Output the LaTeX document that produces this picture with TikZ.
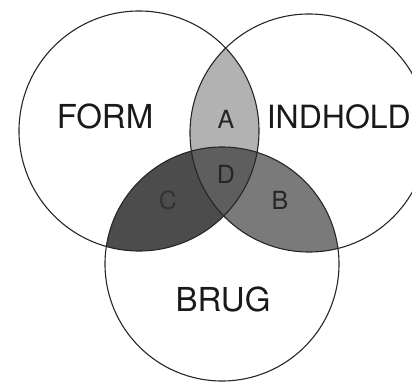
\documentclass[tikz,border=0pt]{standalone}
\usepackage{fontspec}
\setmainfont{TeX Gyre Heros}
\begin{document}
\begin{tikzpicture}[x=1pt,y=-1pt,
  ring/.style={draw=black!85,line width=1.1pt},
  big/.style={font=\fontsize{33}{33}\selectfont,text=black!90,anchor=base,inner sep=0pt},
  small/.style={font=\fontsize{25}{25}\selectfont,text=black!85,anchor=base,inner sep=0pt}]
\useasboundingbox (0,0) rectangle (412,382);
\coordinate (f) at (139,131);
\coordinate (i) at (309,133);
\coordinate (b) at (222,264);
\def\rf{120}\def\ri{119}\def\rb{117}
% A: FORM and INDHOLD
\begin{scope}
  \clip (f) circle (\rf);
  \fill[black!30] (i) circle (\ri);
\end{scope}
% C: FORM and BRUG
\begin{scope}
  \clip (f) circle (\rf);
  \fill[black!70] (b) circle (\rb);
\end{scope}
% B: INDHOLD and BRUG
\begin{scope}
  \clip (i) circle (\ri);
  \fill[black!52] (b) circle (\rb);
\end{scope}
% D: all three
\begin{scope}
  \clip (f) circle (\rf);
  \clip (i) circle (\ri);
  \fill[black!63] (b) circle (\rb);
\end{scope}
\draw[ring] (f) circle (\rf);
\draw[ring] (i) circle (\ri);
\draw[ring] (b) circle (\rb);
\node[big] (form) at (105,129) {FORM};
\node[big,anchor=base east,font=\fontsize{32}{32}\selectfont] (indhold) at (411,129) {INDHOLD};
\node[big] (brug) at (223,311) {BRUG};
\node[small] (la) at (226,129) {A};
\node[small] (ld) at (226,183) {D};
\node[small,text=black!80] (lc) at (168,209) {C};
\node[small] (lb) at (280,210) {B};
\end{tikzpicture}
\end{document}
